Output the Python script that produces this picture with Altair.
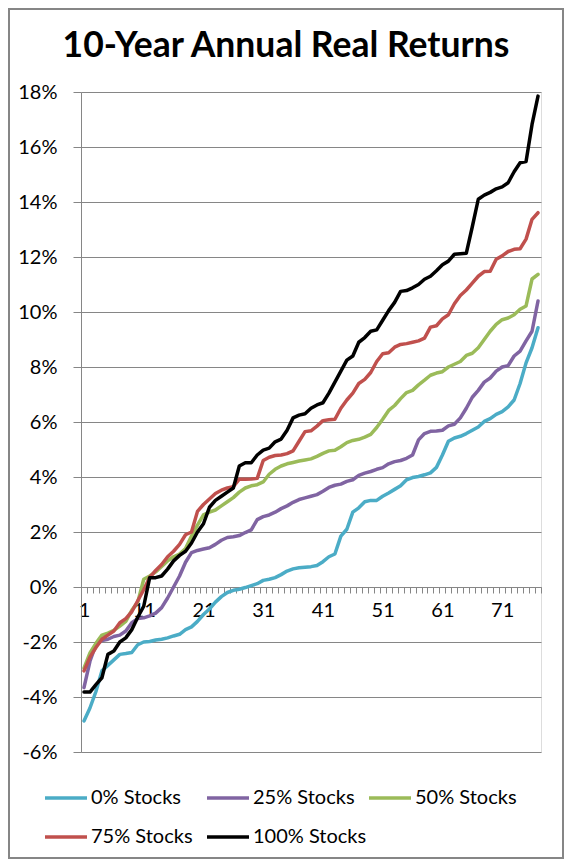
import altair as alt
import pandas as pd

# ---- data ----
periods = list(range(1, 78))
series_names = ["0% Stocks", "25% Stocks", "50% Stocks", "75% Stocks", "100% Stocks"]
series_colors = ["#4BACC6", "#8064A2", "#9BBB59", "#C0504D", "#000000"]
chart_title = ["10-Year Annual Real Returns"]

stocks_0 = [-4.87, -4.4, -3.8, -3.05, -2.85, -2.65, -2.45, -2.42, -2.38, -2.1,
            -2.0, -1.98, -1.93, -1.9, -1.85, -1.78, -1.72, -1.55, -1.45, -1.25,
            -1.0, -0.8, -0.55, -0.35, -0.2, -0.12, -0.08, -0.02, 0.05, 0.12,
            0.24, 0.28, 0.34, 0.45, 0.58, 0.66, 0.70, 0.72, 0.74, 0.78,
            0.92, 1.1, 1.2, 1.85, 2.1, 2.72, 2.88, 3.1, 3.15, 3.15,
            3.3, 3.42, 3.55, 3.68, 3.9, 3.98, 4.02, 4.08, 4.15, 4.35,
            4.8, 5.3, 5.42, 5.48, 5.58, 5.7, 5.82, 6.02, 6.12, 6.28,
            6.38, 6.55, 6.8, 7.4, 8.15, 8.7, 9.43]

stocks_25 = [-3.66, -2.7, -2.1, -1.95, -1.9, -1.8, -1.75, -1.6, -1.3, -1.15,
             -1.12, -1.05, -0.95, -0.75, -0.4, 0.0, 0.4, 0.9, 1.25, 1.33,
             1.38, 1.43, 1.55, 1.7, 1.8, 1.83, 1.87, 1.98, 2.08, 2.45,
             2.56, 2.62, 2.72, 2.85, 2.95, 3.08, 3.18, 3.24, 3.3, 3.36,
             3.48, 3.62, 3.7, 3.74, 3.84, 3.9, 4.06, 4.14, 4.2, 4.28,
             4.34, 4.48, 4.56, 4.6, 4.68, 4.8, 5.35, 5.58, 5.66, 5.67,
             5.7, 5.86, 5.92, 6.15, 6.5, 6.9, 7.15, 7.45, 7.6, 7.85,
             8.0, 8.05, 8.4, 8.58, 8.95, 9.3, 10.4]

stocks_50 = [-2.95, -2.4, -2.05, -1.75, -1.68, -1.58, -1.42, -1.25, -0.85, -0.55,
             0.28, 0.4, 0.55, 0.75, 0.95, 1.1, 1.2, 1.4, 1.85, 2.25,
             2.62, 2.72, 2.8, 2.95, 3.1, 3.25, 3.45, 3.6, 3.68, 3.72,
             3.82, 4.1, 4.28, 4.4, 4.48, 4.53, 4.58, 4.62, 4.66, 4.75,
             4.86, 4.95, 4.97, 5.1, 5.25, 5.33, 5.37, 5.45, 5.55, 5.8,
             6.1, 6.42, 6.6, 6.85, 7.07, 7.15, 7.35, 7.52, 7.7, 7.78,
             7.83, 8.0, 8.1, 8.2, 8.42, 8.5, 8.7, 9.0, 9.3, 9.55,
             9.72, 9.78, 9.9, 10.1, 10.22, 11.2, 11.37]

stocks_75 = [-3.05, -2.55, -2.2, -1.9, -1.75, -1.6, -1.3, -1.15, -0.9, -0.5,
             -0.1, 0.35, 0.6, 0.82, 1.1, 1.3, 1.55, 1.9, 2.0, 2.75,
             3.0, 3.2, 3.4, 3.52, 3.6, 3.65, 3.92, 3.92, 3.93, 3.95,
             4.6, 4.72, 4.78, 4.8, 4.85, 4.95, 5.3, 5.65, 5.68, 5.85,
             6.05, 6.08, 6.1, 6.5, 6.8, 7.05, 7.4, 7.55, 7.8, 8.2,
             8.48, 8.52, 8.72, 8.82, 8.85, 8.9, 8.95, 9.05, 9.45, 9.5,
             9.75, 9.9, 10.3, 10.6, 10.8, 11.05, 11.3, 11.47, 11.48, 11.92,
             12.04, 12.2, 12.28, 12.3, 12.65, 13.37, 13.61]

stocks_100 = [-3.82, -3.82, -3.55, -3.3, -2.45, -2.33, -2.0, -1.85, -1.55, -1.1,
              -0.7, 0.34, 0.34, 0.4, 0.65, 0.95, 1.15, 1.3, 1.6, 2.0,
              2.3, 2.9, 3.15, 3.3, 3.45, 3.6, 4.4, 4.52, 4.52, 4.8,
              4.98, 5.05, 5.28, 5.38, 5.7, 6.15, 6.25, 6.3, 6.5, 6.62,
              6.7, 7.05, 7.45, 7.85, 8.25, 8.4, 8.9, 9.07, 9.3, 9.35,
              9.7, 10.05, 10.35, 10.75, 10.78, 10.88, 11.0, 11.19, 11.3, 11.5,
              11.72, 11.85, 12.1, 12.12, 12.14, 13.1, 14.1, 14.25, 14.35, 14.48,
              14.55, 14.7, 15.1, 15.43, 15.47, 16.82, 17.85]

y_tick_values = list(range(-6, 19, 2))
x_label_values = [1, 11, 21, 31, 41, 51, 61, 71]
x_tick_values = [p - 0.5 for p in range(1, 79)]

rows = []
for name, vals in zip(series_names, [stocks_0, stocks_25, stocks_50, stocks_75, stocks_100]):
    for p, v in zip(periods, vals):
        rows.append({"period": p, "ret": v, "series": name})
df = pd.DataFrame(rows)

FONT = "Lato"
GRAY = "#868686"

label_list = ",".join(str(v - 0.5) for v in x_label_values)
x_label_expr = f"indexof([{label_list}], datum.value) >= 0 ? format(datum.value + 0.5, 'd') : ''"

lines = alt.Chart(df).mark_line(strokeWidth=3.5, strokeJoin="round", strokeCap="round").encode(
    x=alt.X("period:Q",
            scale=alt.Scale(domain=[0.5, 77.5], nice=False, zero=False),
            axis=alt.Axis(values=x_tick_values, labelExpr=x_label_expr, labelOffset=3,
                          labelFlush=False, labelOverlap=False, labelAngle=0,
                          labelFont=FONT, labelFontSize=20, labelColor="black",
                          labelPadding=7, tickSize=6, tickColor=GRAY, domainColor=GRAY,
                          grid=False, offset=-165, title=None)),
    y=alt.Y("ret:Q",
            scale=alt.Scale(domain=[-6, 18], nice=False, zero=False),
            axis=alt.Axis(values=y_tick_values, labelExpr="datum.value + '%'",
                          labelFont=FONT, labelFontSize=20, labelColor="black",
                          labelPadding=16, tickSize=8, tickColor=GRAY, domainColor=GRAY,
                          grid=True, gridColor=GRAY, gridWidth=1, title=None)),
    color=alt.Color("series:N",
                    scale=alt.Scale(domain=series_names, range=series_colors),
                    legend=alt.Legend(orient="none", legendX=-38, legendY=683, columns=3,
                                      direction="horizontal", gridAlign="all",
                                      title=None, symbolType="stroke", symbolSize=1764,
                                      symbolStrokeWidth=3.5, labelFont=FONT, labelFontSize=20,
                                      labelColor="black", labelOffset=2, columnPadding=-11,
                                      rowPadding=6, padding=0)),
)

border = alt.Chart(alt.Data(values=[{}])).mark_rect(fill=None, stroke=GRAY, strokeWidth=2).encode(
    x=alt.value(-72), x2=alt.value(482), y=alt.value(-83), y2=alt.value(766)
)

title = alt.Chart(pd.DataFrame({"t": chart_title})).mark_text(
    font=FONT, fontSize=35.5, fontWeight="bold", color="black", align="center", baseline="alphabetic"
).encode(text="t:N", x=alt.value(205), y=alt.value(-35))

chart = alt.layer(border, title, lines).properties(
    width=460, height=660,
    padding={"left": 73, "top": 84, "right": 23, "bottom": 107},
    autosize=alt.AutoSizeParams(type="none"),
).configure_view(stroke=None).configure(background="white")

chart.save("out.html", embed_options={"renderer": "svg", "actions": False})
